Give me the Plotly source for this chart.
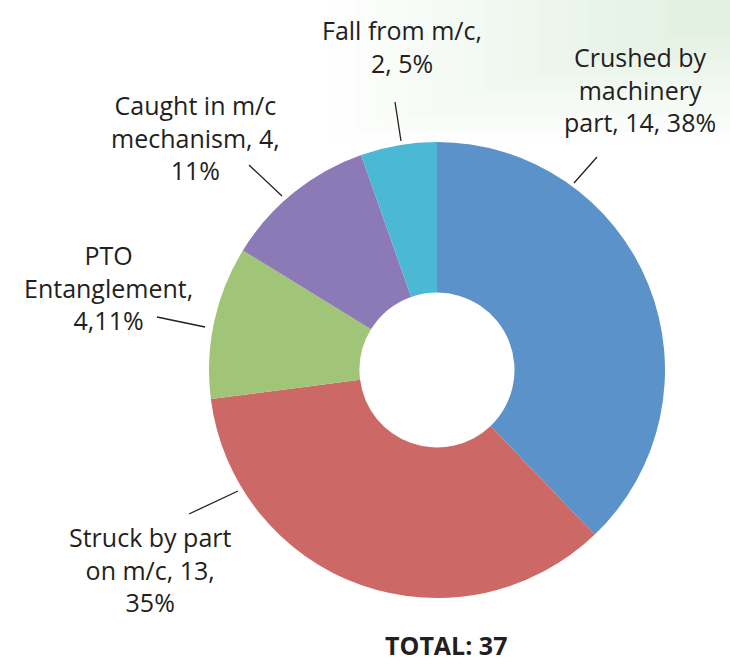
import plotly.graph_objects as go

# Data
causes = ["Crushed by machinery part", "Struck by part on m/c", "PTO Entanglement",
          "Caught in m/c mechanism", "Fall from m/c"]
counts = [14, 13, 4, 4, 2]
colors = ["#5B92CA", "#CC6966", "#A0C576", "#8B7AB6", "#4BB9D3"]
label_texts = [
    "Crushed by<br>machinery<br>part, 14, 38%",
    "Struck by part<br>on m/c, 13,<br>35%",
    "PTO<br>Entanglement,<br>4,11%",
    "Caught in m/c<br>mechanism, 4,<br>11%",
    "Fall from m/c,<br>2, 5%",
]
total = sum(counts)

W, H = 730, 664

def px(x, y):
    return x / W, 1 - y / H

fig = go.Figure()

fig.add_trace(go.Pie(
    labels=causes,
    values=counts,
    marker=dict(colors=colors, line=dict(width=0)),
    hole=0.34,
    sort=False,
    direction="clockwise",
    rotation=0,
    textinfo="none",
    hovertemplate="%{label}: %{value} (%{percent})<extra></extra>",
    domain=dict(x=[209 / W, 665 / W], y=[1 - 598 / H, 1 - 142 / H]),
    showlegend=False,
))

# label positions (px) and leader lines (px)
label_pos = [(640, 89), (150, 569), (108, 287), (195, 137), (402, 47)]
leaders = [
    ((574, 183), (597, 157)),
    ((238, 491), (189, 514)),
    ((205, 327), (157, 317)),
    ((282, 196), (249, 165)),
    ((401, 141), (395, 102)),
]

font = dict(family="Open Sans, sans-serif", size=25, color="#231F20")

annotations = []
for txt, (x, y) in zip(label_texts, label_pos):
    ax, ay = px(x, y)
    annotations.append(dict(x=ax, y=ay, xref="paper", yref="paper", text=txt,
                            showarrow=False, xanchor="center", yanchor="middle",
                            font=font, align="center"))

tx, ty = px(446, 645)
annotations.append(dict(x=tx, y=ty, xref="paper", yref="paper",
                        text=f"<b>TOTAL: {total}</b>", showarrow=False,
                        xanchor="center", yanchor="middle",
                        font=dict(family="Open Sans, sans-serif", size=25, color="#231F20")))

shapes = []
# faint green wash along the top, strongest at the right
for i in range(14):
    x0 = 330 + i * 26
    y1 = 140 - i * 8
    a, b = px(x0, 0)
    c, d = px(W, y1)
    shapes.append(dict(type="rect", xref="paper", yref="paper", x0=a, x1=c, y0=d, y1=b,
                       fillcolor="#a9d3a6", opacity=0.022, line=dict(width=0), layer="below"))

for (p0, p1) in leaders:
    x0, y0 = px(*p0)
    x1, y1 = px(*p1)
    shapes.append(dict(type="line", xref="paper", yref="paper", x0=x0, y0=y0, x1=x1, y1=y1,
                       line=dict(color="#231F20", width=1.3)))

fig.update_layout(
    width=W, height=H,
    margin=dict(l=0, r=0, t=0, b=0),
    paper_bgcolor="white",
    plot_bgcolor="white",
    annotations=annotations,
    shapes=shapes,
)

fig.write_html("out.html", config={"displayModeBar": False},
               post_script="document.body.style.margin='0';document.body.style.overflow='hidden';")
